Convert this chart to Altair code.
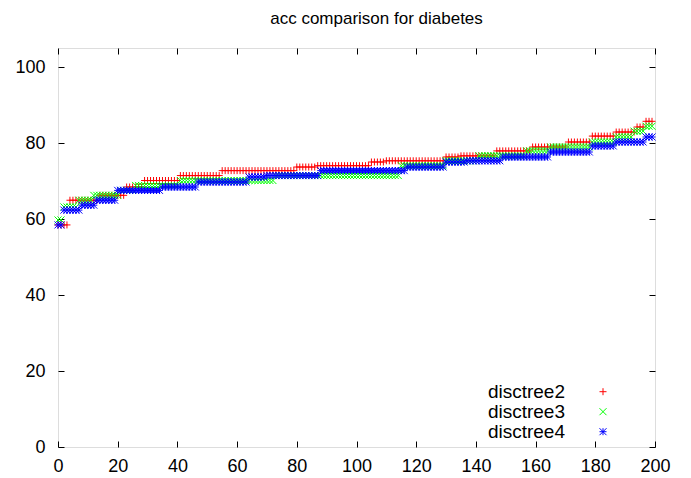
import altair as alt
import pandas as pd

# ---- data (sorted accuracies, run-length: level, count) ----
series_names = ["disctree2", "disctree3", "disctree4"]
series_colors = ["#ff0000", "#00ff00", "#0000ff"]

dt2_levels = [58.44, 64.94, 66.23, 68.42, 70.13, 71.43, 72.73, 73.68, 74.03, 75.0,
              75.32, 76.32, 76.62, 77.92, 78.95, 80.26, 81.82, 82.89, 84.21, 85.71]
dt2_counts = [4, 10, 9, 6, 12, 14, 25, 7, 18, 5, 20, 5, 12, 12, 12, 8, 8, 7, 3, 3]

dt3_levels = [59.74, 63.16, 64.94, 66.23, 67.53, 68.83, 70.13, 71.43, 74.03, 75.32,
              76.62, 77.92, 78.95, 80.26, 81.58, 83.12, 84.42]
dt3_counts = [2, 5, 5, 9, 5, 15, 32, 42, 15, 11, 16, 8, 14, 8, 6, 4, 3]

dt4_levels = [58.44, 62.34, 63.64, 64.94, 67.53, 68.42, 69.74, 71.05, 71.43, 72.73,
              73.68, 75.0, 75.32, 76.32, 77.63, 79.22, 80.26, 81.58]
dt4_counts = [2, 6, 5, 7, 15, 12, 17, 6, 18, 29, 13, 7, 12, 16, 14, 8, 10, 3]

x_ticks = [0, 20, 40, 60, 80, 100, 120, 140, 160, 180, 200]
y_ticks = [0, 20, 40, 60, 80, 100]
x_domain = [0, 200]
y_domain = [0, 105]

title_text = "acc comparison for diabetes"

# ---- build table ----
rows = []
for name, levels, counts in zip(series_names,
                                [dt2_levels, dt3_levels, dt4_levels],
                                [dt2_counts, dt3_counts, dt4_counts]):
    i = 0
    for lv, c in zip(levels, counts):
        for _ in range(c):
            rows.append({"series": name, "idx": i, "acc": lv})
            i += 1
df = pd.DataFrame(rows)

legend_df = pd.DataFrame({"series": series_names, "row": [0, 1, 2]})
frame_df = pd.DataFrame({"idx": x_domain, "acc": y_domain})

FONT = "Liberation Sans"
plus_path = "M-1,0L1,0M0,-1L0,1"
x_path = "M-1,-1L1,1M-1,1L1,-1"
star_path = "M-1,0L1,0M0,-1L0,1M-1,-1L1,1M-1,1L1,-1"

color_scale = alt.Scale(domain=series_names, range=series_colors)
shape_scale = alt.Scale(domain=series_names, range=[plus_path, x_path, star_path])
xs = alt.Scale(domain=x_domain, nice=False, zero=False)
ys = alt.Scale(domain=y_domain, nice=False, zero=False)

axis_common = dict(grid=False, domain=False, tickSize=6, offset=-6,
                   tickColor="black", tickWidth=1, labelColor="black",
                   labelFont=FONT, labelFontSize=18, title=None,
                   labelOverlap=False)

points = alt.Chart(df).mark_point(filled=False, strokeWidth=1, size=49, opacity=1).encode(
    x=alt.X("idx:Q", scale=xs,
            axis=alt.Axis(orient="bottom", values=x_ticks, labelPadding=10,
                          labelFlush=False, **axis_common)),
    y=alt.Y("acc:Q", scale=ys,
            axis=alt.Axis(orient="left", values=y_ticks, labelPadding=13, **axis_common)),
    color=alt.Color("series:N", scale=color_scale, legend=None),
    shape=alt.Shape("series:N", scale=shape_scale, legend=None),
)

mirror = alt.Chart(frame_df).mark_point(opacity=0).encode(
    x=alt.X("idx:Q", scale=xs,
            axis=alt.Axis(orient="top", values=x_ticks, labels=False, **axis_common)),
    y=alt.Y("acc:Q", scale=ys,
            axis=alt.Axis(orient="right", values=y_ticks, labels=False, **axis_common)),
)

legend_y = alt.Scale(domain=[0, 2], range=[343.7, 383.7])

legend_text = alt.Chart(legend_df).mark_text(
    align="right", baseline="middle", font=FONT, fontSize=19, color="black"
).encode(
    x=alt.value(507),
    y=alt.Y("row:Q", scale=legend_y, axis=None),
    text="series:N",
)

legend_pts = alt.Chart(legend_df).mark_point(filled=False, strokeWidth=1, size=49, opacity=1).encode(
    x=alt.value(545),
    y=alt.Y("row:Q", scale=legend_y, axis=None),
    color=alt.Color("series:N", scale=color_scale, legend=None),
    shape=alt.Shape("series:N", scale=shape_scale, legend=None),
)

chart = alt.layer(points, mirror, legend_text, legend_pts).resolve_scale(
    y="independent"
).resolve_axis(
    x="independent", y="independent"
).properties(
    width=597, height=399,
    padding={"left": 58, "top": 48, "right": 36, "bottom": 31},
    autosize=alt.AutoSizeParams(type="none"),
    title=alt.TitleParams(title_text, font=FONT, fontSize=17, fontWeight="normal",
                          color="black", anchor="middle", offset=17, dx=20),
).configure_view(
    stroke="black", strokeWidth=1
).configure(background="white")

chart.save("out.html", embed_options={"renderer": "svg", "actions": False})
